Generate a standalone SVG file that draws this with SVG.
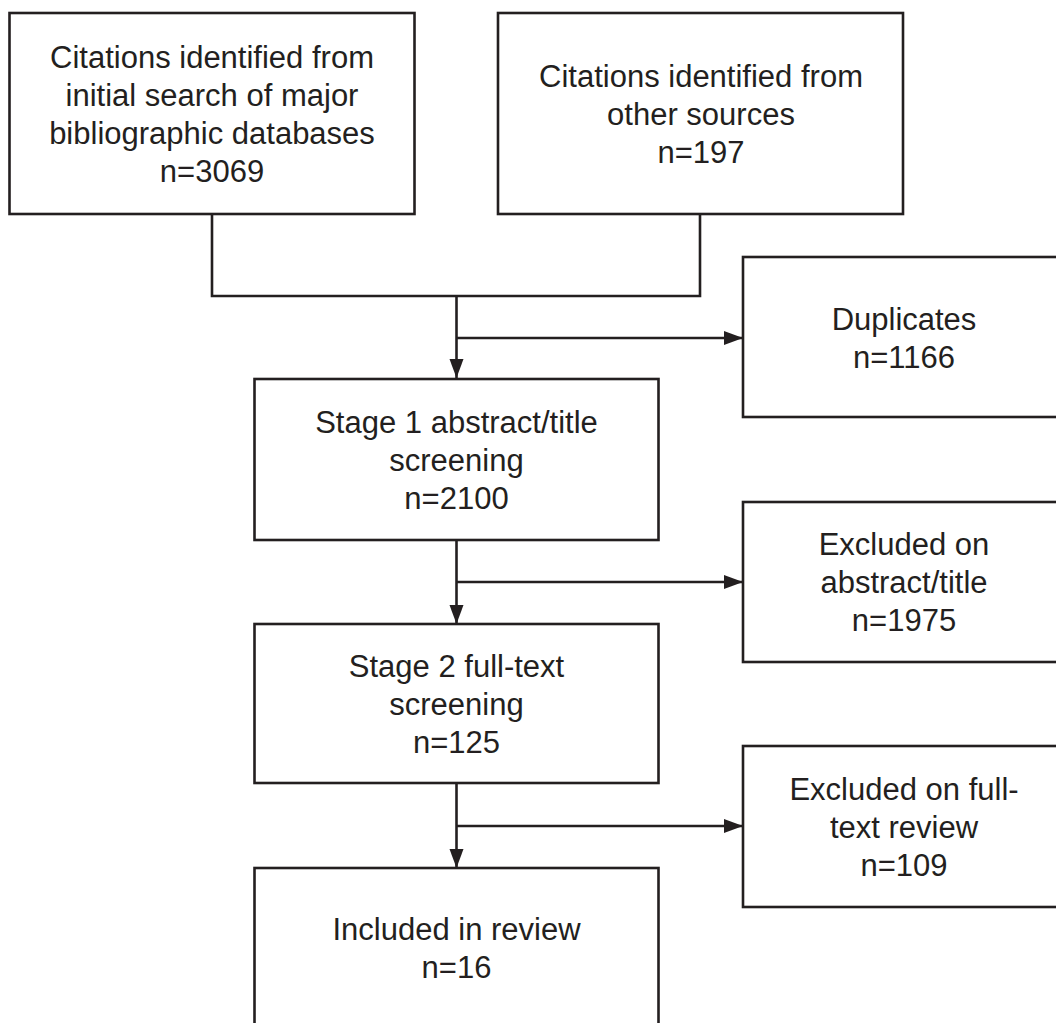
<svg xmlns="http://www.w3.org/2000/svg" width="1056" height="1023" viewBox="0 0 1056 1023">
  <style>
    .box { fill: #ffffff; stroke: #231f20; stroke-width: 2.6; }
    .lbl { font-family: "Liberation Sans", Arial, sans-serif; font-size: 31px; fill: #231f20; text-anchor: middle; }
    .conn { fill: none; stroke: #231f20; stroke-width: 2.6; }
  </style>
  <defs>
    <marker id="arrow" markerUnits="userSpaceOnUse" markerWidth="20" markerHeight="15" refX="19" refY="7.5" orient="auto">
      <path d="M0,0.5 L19,7.5 L0,14.5 z" fill="#231f20"/>
    </marker>
  </defs>
  <rect x="0" y="0" width="1056" height="1023" fill="#ffffff"/>

  <g id="connectors">
    <polyline class="conn" points="212,214 212,296 700,296 700,214"/>
    <line class="conn" x1="456.5" y1="296" x2="456.5" y2="378" marker-end="url(#arrow)"/>
    <line class="conn" x1="456.5" y1="338" x2="743" y2="338" marker-end="url(#arrow)"/>
    <line class="conn" x1="456.5" y1="540" x2="456.5" y2="624" marker-end="url(#arrow)"/>
    <line class="conn" x1="456.5" y1="582" x2="743" y2="582" marker-end="url(#arrow)"/>
    <line class="conn" x1="456.5" y1="783" x2="456.5" y2="868" marker-end="url(#arrow)"/>
    <line class="conn" x1="456.5" y1="826" x2="743" y2="826" marker-end="url(#arrow)"/>
  </g>

  <g id="node-databases">
    <rect class="box" x="9.5" y="13" width="405" height="201"/>
    <text class="lbl" x="212" y="68">Citations identified from</text>
    <text class="lbl" x="212" y="106">initial search of major</text>
    <text class="lbl" x="212" y="144">bibliographic databases</text>
    <text class="lbl" x="212" y="182">n=3069</text>
  </g>

  <g id="node-other">
    <rect class="box" x="498" y="13" width="405" height="201"/>
    <text class="lbl" x="701" y="87">Citations identified from</text>
    <text class="lbl" x="701" y="125">other sources</text>
    <text class="lbl" x="701" y="163">n=197</text>
  </g>

  <g id="node-duplicates">
    <rect class="box" x="743" y="257" width="322" height="160"/>
    <text class="lbl" x="904" y="330">Duplicates</text>
    <text class="lbl" x="904" y="368">n=1166</text>
  </g>

  <g id="node-stage1">
    <rect class="box" x="254.5" y="379" width="404" height="161"/>
    <text class="lbl" x="456.5" y="433">Stage 1 abstract/title</text>
    <text class="lbl" x="456.5" y="471">screening</text>
    <text class="lbl" x="456.5" y="509">n=2100</text>
  </g>

  <g id="node-excluded-abstract">
    <rect class="box" x="743" y="502" width="322" height="160"/>
    <text class="lbl" x="904" y="555">Excluded on</text>
    <text class="lbl" x="904" y="593">abstract/title</text>
    <text class="lbl" x="904" y="631">n=1975</text>
  </g>

  <g id="node-stage2">
    <rect class="box" x="254.5" y="624" width="404" height="159"/>
    <text class="lbl" x="456.5" y="677">Stage 2 full-text</text>
    <text class="lbl" x="456.5" y="715">screening</text>
    <text class="lbl" x="456.5" y="753">n=125</text>
  </g>

  <g id="node-excluded-fulltext">
    <rect class="box" x="743" y="746" width="322" height="161"/>
    <text class="lbl" x="904" y="800">Excluded on full-</text>
    <text class="lbl" x="904" y="838">text review</text>
    <text class="lbl" x="904" y="876">n=109</text>
  </g>

  <g id="node-included">
    <rect class="box" x="254.5" y="868" width="404" height="162"/>
    <text class="lbl" x="456.5" y="940">Included in review</text>
    <text class="lbl" x="456.5" y="978">n=16</text>
  </g>
</svg>
